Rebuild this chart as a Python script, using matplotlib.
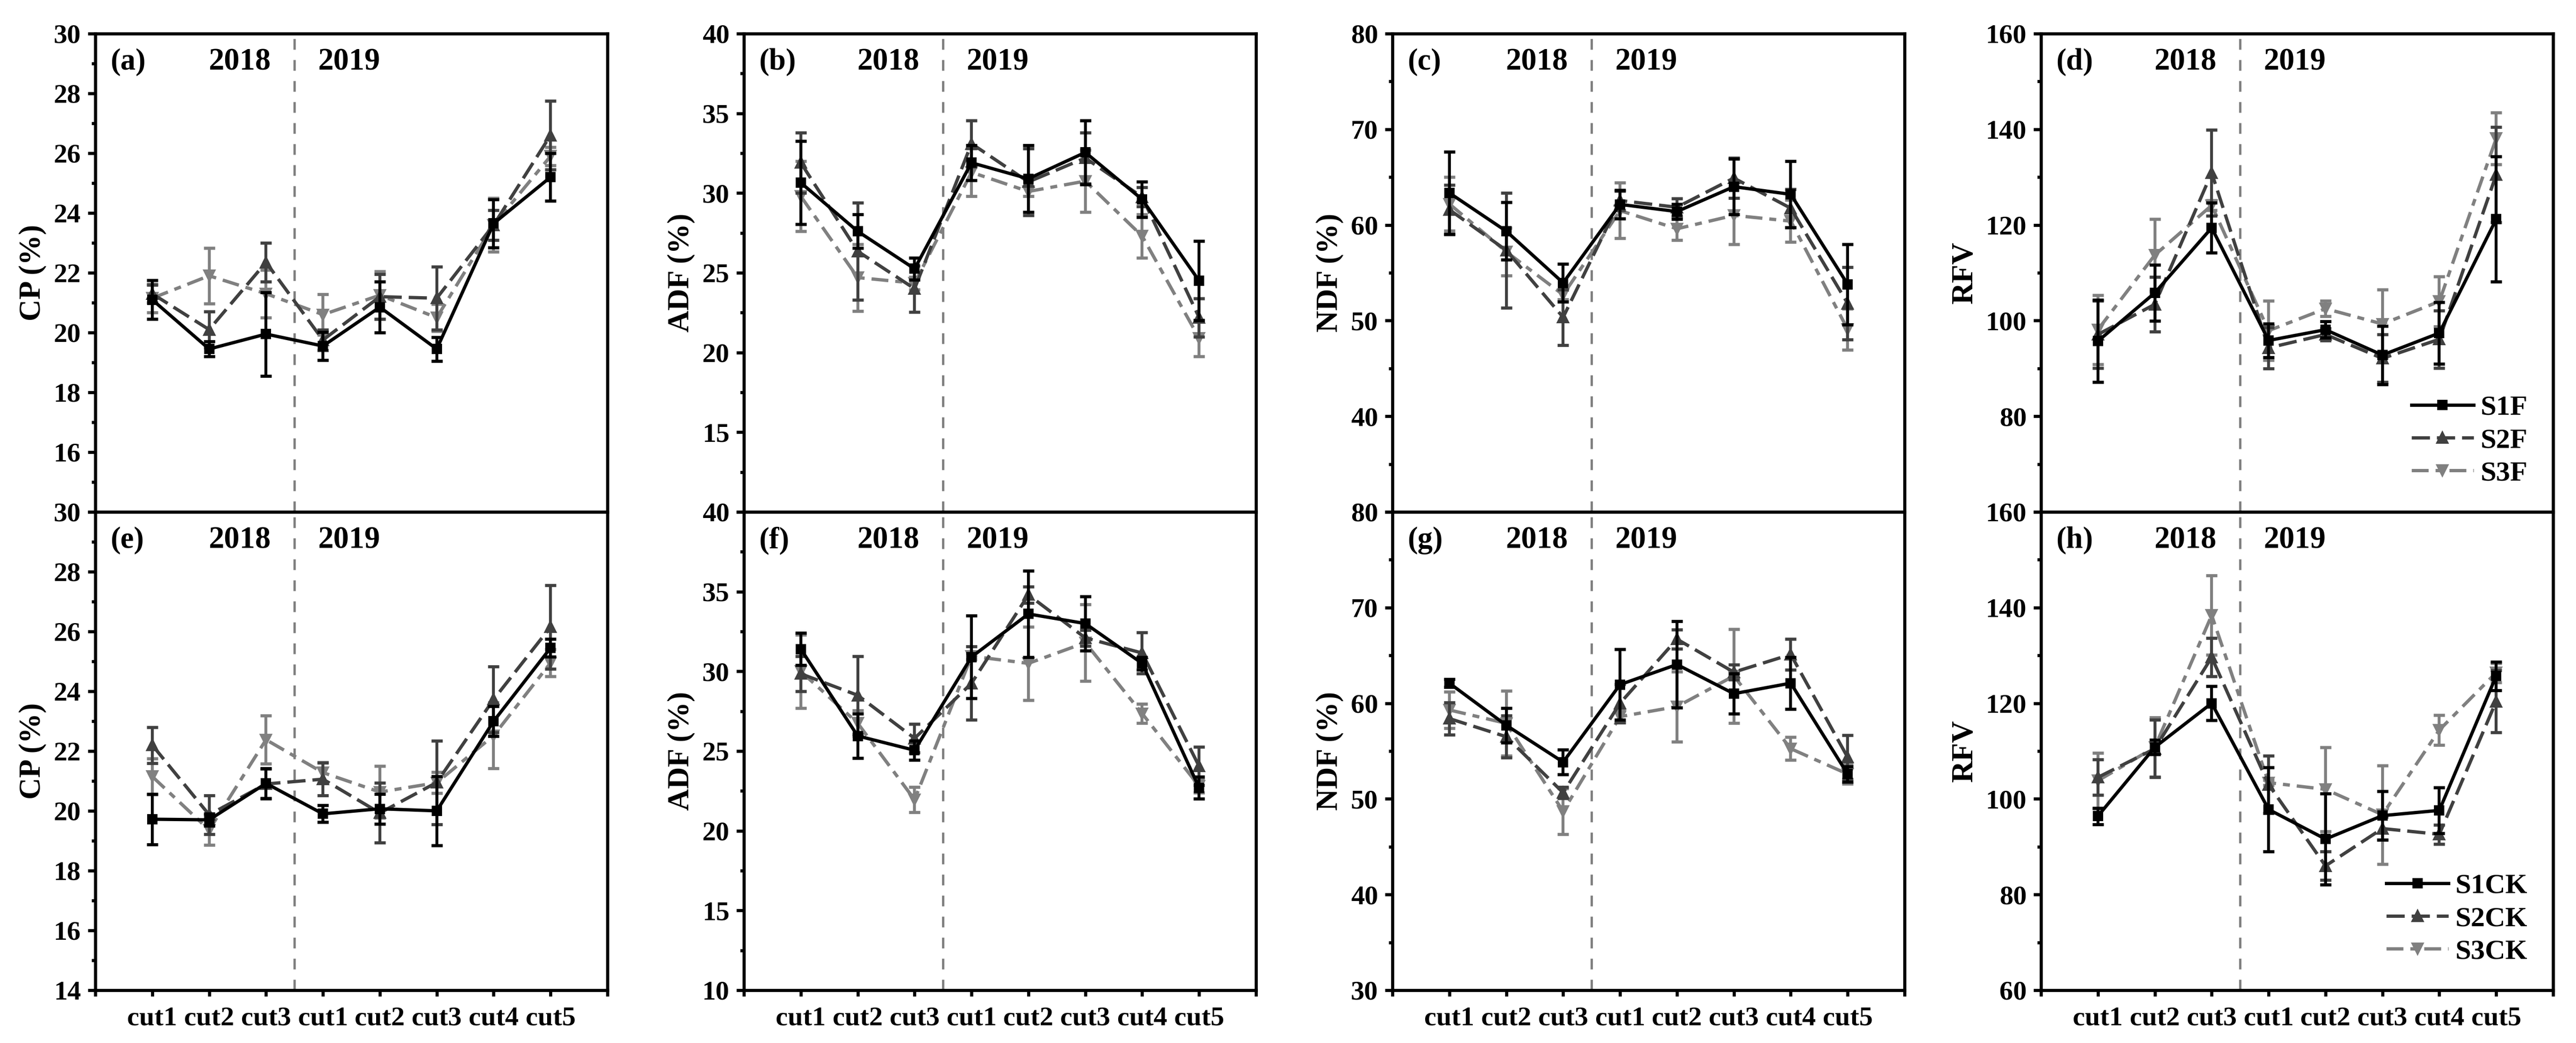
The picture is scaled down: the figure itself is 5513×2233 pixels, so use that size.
import numpy as np
import matplotlib.pyplot as plt
from matplotlib.ticker import MultipleLocator

plt.rcParams['font.family'] = ['Liberation Serif', 'DejaVu Serif']
plt.rcParams['font.weight'] = 'bold'
plt.rcParams['axes.labelweight'] = 'bold'

cuts = ['cut1', 'cut2', 'cut3', 'cut1', 'cut2', 'cut3', 'cut4', 'cut5']
x = np.arange(1, 9)

# means / sd for S1, S2, S3 in each panel
cp_f = [[21.1, 19.45, 19.95, 19.55, 20.85, 19.45, 23.65, 25.2],
        [21.3, 20.1, 22.35, 19.75, 21.2, 21.15, 23.6, 26.6],
        [21.15, 21.9, 21.3, 20.6, 21.25, 20.5, 23.6, 25.9]]
cp_f_sd = [[0.65, 0.25, 1.4, 0.47, 0.85, 0.4, 0.8, 0.8],
           [0.3, 0.6, 0.65, 0.35, 0.75, 1.05, 0.5, 1.15],
           [0.48, 0.93, 0.8, 0.68, 0.8, 0.45, 0.9, 0.3]]
cp_ck = [[19.72, 19.7, 20.92, 19.9, 20.07, 20.0, 23.0, 25.45],
         [22.2, 19.87, 20.9, 21.06, 19.93, 20.95, 23.73, 26.15],
         [21.15, 19.36, 22.38, 21.28, 20.63, 20.94, 22.52, 24.95]]
cp_ck_sd = [[0.85, 0.2, 0.5, 0.28, 0.5, 1.15, 0.5, 0.3],
            [0.6, 0.65, 0.5, 0.55, 1.0, 1.4, 1.1, 1.4],
            [0.6, 0.5, 0.8, 0.35, 0.87, 0.35, 1.1, 0.45]]

adf_f = [[30.65, 27.6, 25.25, 31.9, 30.9, 32.55, 29.6, 24.5],
         [31.9, 26.35, 24.0, 33.1, 30.7, 32.2, 29.75, 22.2],
         [29.8, 24.7, 24.35, 31.3, 30.1, 30.75, 27.3, 20.9]]
adf_f_sd = [[2.6, 1.05, 0.7, 1.1, 2.1, 2.0, 1.1, 2.5],
            [1.9, 3.05, 1.45, 1.45, 2.1, 1.6, 0.6, 1.2],
            [2.2, 2.1, 0.4, 1.5, 0.3, 1.95, 1.35, 1.15]]
adf_ck = [[31.4, 25.95, 25.05, 30.9, 33.6, 33.0, 30.5, 22.7],
          [29.85, 28.5, 25.8, 29.25, 34.8, 32.1, 31.15, 24.05],
          [30.0, 26.75, 21.95, 30.95, 30.5, 31.8, 27.35, 22.8]]
adf_ck_sd = [[1.0, 1.4, 0.6, 2.6, 2.7, 1.7, 0.4, 0.7],
             [1.1, 2.45, 0.9, 2.3, 0.5, 0.5, 1.3, 1.2],
             [2.3, 0.8, 0.8, 0.2, 2.3, 2.4, 0.6, 0.4]]

ndf_f = [[63.35, 59.35, 53.95, 62.15, 61.4, 64.0, 63.2, 53.8],
         [61.6, 57.35, 50.35, 62.55, 61.85, 64.9, 61.75, 51.8],
         [62.2, 57.2, 52.7, 61.5, 59.6, 61.0, 60.4, 49.1]]
ndf_f_sd = [[4.3, 3.0, 2.0, 1.5, 0.8, 2.9, 3.45, 4.2],
            [2.6, 6.0, 2.9, 1.0, 0.9, 2.1, 2.0, 3.8],
            [2.8, 2.5, 0.5, 2.9, 1.2, 3.0, 2.2, 2.15]]
ndf_ck = [[62.1, 57.7, 53.85, 61.95, 64.05, 61.0, 62.1, 52.6],
          [58.4, 56.5, 50.65, 60.0, 66.7, 63.25, 65.1, 54.35],
          [59.3, 57.9, 48.7, 58.6, 59.65, 62.85, 55.25, 52.6]]
ndf_ck_sd = [[0.4, 1.8, 1.3, 3.7, 4.5, 2.1, 2.7, 0.8],
             [1.7, 2.2, 0.6, 2.0, 1.0, 0.8, 1.6, 2.3],
             [1.9, 3.4, 2.4, 0.6, 3.65, 4.9, 1.2, 1.0]]

rfv_f = [[95.7, 105.8, 119.4, 95.85, 98.1, 92.8, 97.4, 121.2],
         [97.1, 103.4, 130.9, 94.3, 97.1, 92.1, 96.1, 130.5],
         [98.1, 113.7, 124.1, 97.9, 102.5, 99.3, 104.0, 138.1]]
rfv_f_sd = [[8.6, 5.9, 5.2, 3.5, 1.7, 6.1, 6.45, 13.1],
            [7.0, 5.7, 9.0, 4.3, 1.3, 5.0, 6.0, 10.0],
            [7.2, 7.5, 1.0, 6.2, 1.6, 7.2, 5.2, 5.4]]
rfv_ck = [[96.4, 110.8, 120.0, 97.8, 91.6, 96.5, 97.6, 125.7],
          [104.5, 110.5, 129.6, 103.0, 86.0, 93.8, 92.6, 120.4],
          [103.8, 110.8, 138.4, 103.4, 102.0, 96.7, 114.4, 126.4]]
rfv_ck_sd = [[1.7, 1.5, 3.6, 8.8, 9.5, 5.1, 4.8, 3.0],
             [3.7, 6.0, 4.0, 6.0, 3.0, 2.4, 2.0, 6.5],
             [5.8, 6.2, 8.3, 0.5, 8.8, 10.3, 3.1, 2.0]]

top_data = [(cp_f, cp_f_sd), (adf_f, adf_f_sd), (ndf_f, ndf_f_sd), (rfv_f, rfv_f_sd)]
bot_data = [(cp_ck, cp_ck_sd), (adf_ck, adf_ck_sd), (ndf_ck, ndf_ck_sd), (rfv_ck, rfv_ck_sd)]
ylabels = ['CP (%)', 'ADF (%)', 'NDF (%)', 'RFV']
yspecs = [(14, 30, 2), (10, 40, 5), (30, 80, 10), (60, 160, 20)]
letters_top = ['(a)', '(b)', '(c)', '(d)']
letters_bot = ['(e)', '(f)', '(g)', '(h)']
names_top = ['S1F', 'S2F', 'S3F']
names_bot = ['S1CK', 'S2CK', 'S3CK']

colors = ['black', '#404040', '#808080']
markers = ['s', '^', 'v']
msizes = [4.2, 5.2, 5.2]
dashes = [None, (5.5, 2.1), (5.1, 2.1, 2.1, 2.1)]

W, H = 5513, 2233
fig = plt.figure(figsize=(W / 300, H / 300), dpi=300)
lefts = [204, 1592, 2980, 4368]
pw, ph = 1096, 1024
top_b, bot_b = 1096, 2120


def draw(ax, means, sds, names, lo, hi, step, letter, ylab, show_x, hide_low):
    handles = []
    for i in [2, 1, 0]:
        kw = dict(color=colors[i], marker=markers[i], ms=msizes[i], lw=1.7,
                  capsize=2.8, capthick=1.6, elinewidth=1.5, zorder=5 - i,
                  label=names[i])
        if dashes[i] is not None:
            kw['dashes'] = dashes[i]
        eb = ax.errorbar(x, means[i], yerr=sds[i], **kw)
        handles.append(eb.lines[0])
    handles = handles[::-1]
    ax.axvline(3.5, color='#808080', lw=1.2, dashes=(4.6, 4.4), zorder=1)
    ax.set_xlim(0, 9)
    ax.set_ylim(lo, hi)
    ticks = np.arange(lo, hi + step / 2, step)
    labs = ['%d' % t for t in ticks]
    if hide_low:
        labs[0] = ''
    ax.set_yticks(ticks, labs)
    ax.yaxis.set_minor_locator(MultipleLocator(step / 2))
    ax.tick_params(axis='y', which='major', direction='out', length=3.9,
                   width=1.6, labelsize=14, pad=3.5)
    ax.tick_params(axis='y', which='minor', direction='out', length=1.9, width=1.6)
    if show_x:
        ax.set_xticks(np.arange(0, 10), [''] + cuts + [''])
        ax.tick_params(axis='x', direction='out', length=3.2, width=1.6,
                       labelsize=14, pad=5)
    else:
        ax.set_xticks([])
    for s in ax.spines.values():
        s.set_linewidth(1.6)
    ax.set_ylabel(ylab, fontsize=15.5, labelpad=3.4)
    ax.text(0.029, 0.94, letter, transform=ax.transAxes, fontsize=15.5,
            ha='left', va='center')
    ax.text(0.282, 0.94, '2018', transform=ax.transAxes, fontsize=16,
            ha='center', va='center')
    ax.text(0.495, 0.94, '2019', transform=ax.transAxes, fontsize=16,
            ha='center', va='center')
    return handles


for c in range(4):
    lo, hi, step = yspecs[c]
    ax_t = fig.add_axes([lefts[c] / W, (H - top_b) / H, pw / W, ph / H])
    ax_b = fig.add_axes([lefts[c] / W, (H - bot_b) / H, pw / W, ph / H])
    ht = draw(ax_t, top_data[c][0], top_data[c][1], names_top, lo, hi, step,
              letters_top[c], ylabels[c], False, True)
    hb = draw(ax_b, bot_data[c][0], bot_data[c][1], names_bot, lo, hi, step,
              letters_bot[c], ylabels[c], True, False)
    if c == 3:
        for ax, hh, nn in [(ax_t, ht, names_top), (ax_b, hb, names_bot)]:
            ax.legend(hh, nn, loc='lower right', frameon=False, fontsize=14.5,
                      handlelength=2.2, labelspacing=0.25, borderaxespad=0.5,
                      handletextpad=0.25)

fig.savefig('out.png', dpi=300)
